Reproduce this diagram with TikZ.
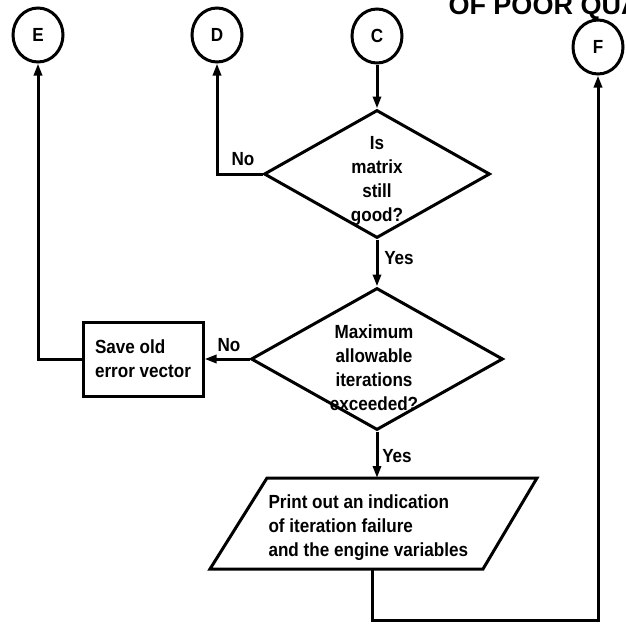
\documentclass[tikz,border=0pt]{standalone}
\usepackage{fontspec}
\setmainfont{Liberation Sans}[FakeStretch=0.9]
\newfontfamily\headfont{Liberation Sans}
\usetikzlibrary{shapes.geometric,arrows.meta}
\begin{document}
\begin{tikzpicture}[x=1pt,y=-1pt,
  line width=3pt,
  txt/.style={font=\fontsize{19}{24}\selectfont\bfseries, inner sep=0pt},
  conn/.style={ellipse, draw, minimum width=50pt, minimum height=54pt, inner sep=0pt, txt},
  decision/.style={diamond, draw, inner sep=0pt},
  flow/.style={-{Triangle[length=12pt,width=8pt]}}]
\useasboundingbox (0,0) rectangle (625,629);

% running head, cut by the page edge
\node[font=\headfont\fontsize{27}{27}\selectfont\bfseries, anchor=base west, inner sep=0pt] (hdr) at (447,14) {OF POOR QUALITY};

% off-page connectors
\node[conn] (E) at (38,35) {E};
\node[conn] (D) at (217,35) {D};
\node[conn] (C) at (377,36) {C};
\node[conn] (F) at (598,47) {F};

% decisions
\node[decision, minimum width=226pt, minimum height=128pt] (d1) at (377,174) {};
\node[txt, align=center] (d1t) at (377,181) {Is\\matrix\\still\\good?};
\node[decision, minimum width=252pt, minimum height=142pt] (d2) at (377,359) {};
\node[txt, align=center] (d2t) at (374,368) {Maximum\\allowable\\iterations\\exceeded?};

% process box
\node[draw, minimum width=120pt, minimum height=74pt, txt, align=left] (save) at (143,359) {Save old\\error vector};

% output parallelogram
\coordinate (pa) at (210,569);
\coordinate (pb) at (483,569);
\coordinate (pc) at (537,478);
\coordinate (pd) at (267,478);
\draw (pa) -- (pb) -- (pc) -- (pd) -- cycle;
\coordinate (ptop) at (377,478);
\coordinate (pbot) at (372,569);
\node[txt, align=left, anchor=west] (pt) at (267,528) {Print out an indication\\of iteration failure\\and the engine variables};
\coordinate (loop) at (598,620);

% connectors
\draw[flow] (C.south) -- (d1.north);
\draw[flow] (d1.west) -- (d1.west -| D.south) -- (D.south);
\draw[flow] (d1.south) -- (d2.north);
\draw[flow] (d2.west) -- (save.east);
\draw[flow] (save.west) -| (E.south);
\draw[flow] (d2.south) -- (ptop);
\draw[flow] (pbot) |- (loop) -- (F.south);

% branch labels
\node[txt] (no1) at (243,159) {No};
\node[txt] (yes1) at (399,258) {Yes};
\node[txt] (no2) at (229,345) {No};
\node[txt] (yes2) at (397,456) {Yes};
\end{tikzpicture}
\end{document}
